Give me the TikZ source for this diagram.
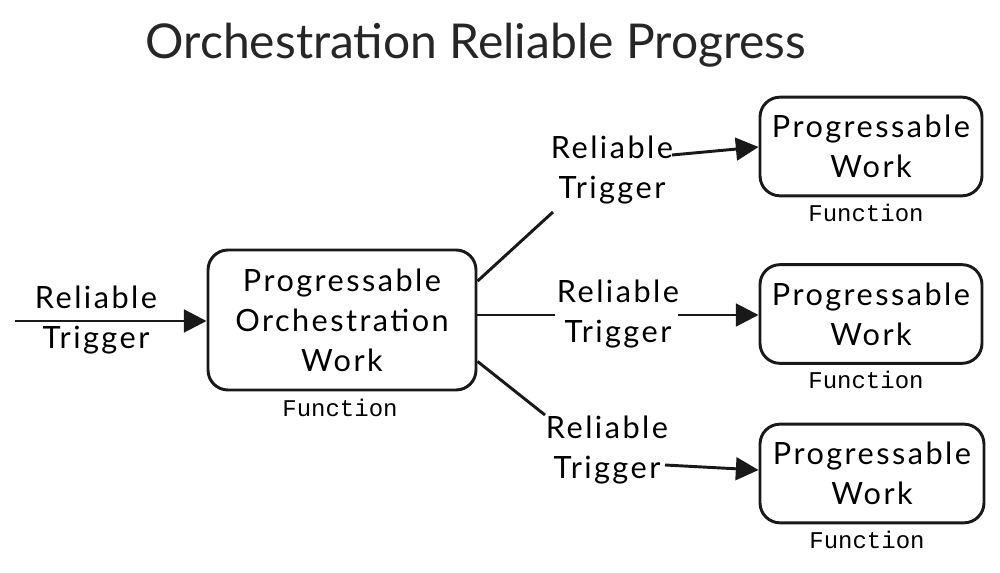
\documentclass[tikz,border=0pt]{standalone}
\usepackage{fontspec}
\setmainfont{Lato}
\newfontfamily\hand[LetterSpace=8]{Lato}
\newfontfamily\monof{Liberation Mono}
\usetikzlibrary{arrows.meta}
\tikzset{
  px/.style={x=0.75pt,y=-0.75pt},
  box/.style={draw=black!90, line width=2.2pt, rounded corners=15pt, align=center,
    font=\hand\fontsize{23}{30}\selectfont, inner sep=0pt},
  lbl/.style={align=center, font=\hand\fontsize{23}{30}\selectfont, inner sep=0pt},
  fn/.style={font=\monof\fontsize{18}{20}\selectfont, inner sep=0pt},
  conn/.style={line width=2.2pt, draw=black!90},
  arr/.style={conn, -{Triangle[length=17pt,width=17pt]}},
}
\begin{document}
\begin{tikzpicture}[px]
\useasboundingbox (0,0) rectangle (1000,573);
\fill[white] (0,0) rectangle (1000,573);
\node[font=\fontsize{36}{40}\selectfont, text=black!85] (title) at (476,45) {Orchestration Reliable Progress};

\node[box, minimum width=201pt, minimum height=105pt] (main) at (342,320) {Progressable\\Orchestration\\Work};
\node[fn] (fmain) at (340,408) {Function};

\node[box, minimum width=166.5pt, minimum height=74pt] (w1) at (871,146.5) {Progressable\\Work};
\node[fn] (f1) at (866,213) {Function};
\node[box, minimum width=166.5pt, minimum height=74pt] (w2) at (871,314) {Progressable\\Work};
\node[fn] (f2) at (866,380) {Function};
\node[box, minimum width=168pt, minimum height=74pt] (w3) at (872,473.5) {Progressable\\Work};
\node[fn] (f3) at (867,540) {Function};

% incoming trigger
\coordinate (start) at (15,321);
\node[lbl] (l0) at (96,320) {Reliable\\Trigger};
\draw[arr] (start) -- (main.west |- start);

% top branch
\coordinate (a1) at (553,212);
\node[lbl] (l1) at (612,170) {Reliable\\Trigger};
\coordinate (b1) at (672,155);
\draw[conn] (main.16.6) -- (a1);
\draw[arr] (b1) -- (w1.west |- 0,147);

% middle branch
\coordinate (a2) at (555,315);
\node[lbl] (l2) at (618,314) {Reliable\\Trigger};
\coordinate (b2) at (678,315);
\draw[conn] (main.east |- a2) -- (a2);
\draw[arr] (b2) -- (w2.west |- b2);

% bottom branch
\coordinate (a3) at (545,415);
\node[lbl] (l3) at (607,450) {Reliable\\Trigger};
\coordinate (b3) at (665,465);
\draw[conn] (main.-17.4) -- (a3);
\draw[arr] (b3) -- (w3.west |- 0,470);
\end{tikzpicture}
\end{document}
